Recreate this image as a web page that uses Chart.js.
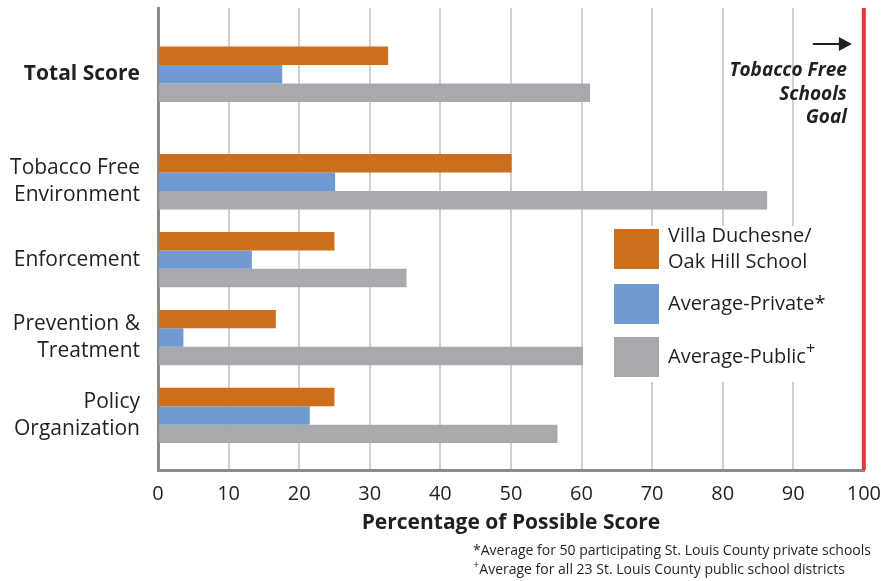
<!DOCTYPE html>
<html>
<head>
<meta charset="utf-8">
<script src="https://cdn.jsdelivr.net/npm/chart.js@4.4.1/dist/chart.umd.min.js"></script>
<style>
  html, body { margin: 0; padding: 0; background: #fff; }
  #wrap { width: 893px; height: 581px; }
</style>
</head>
<body>
<div id="wrap"><canvas id="myChart" width="893" height="581"></canvas></div>
<script>
// chart data
var categories = ['Total Score', ['Tobacco Free', 'Environment'], 'Enforcement', ['Prevention &', 'Treatment'], ['Policy', 'Organization']];
var seriesNames = [['Villa Duchesne/', 'Oak Hill School'], 'Average-Private*', 'Average-Public+'];
var villaDuchesne = [32.6, 50.1, 25.0, 16.7, 25.0];
var averagePrivate = [17.6, 25.1, 13.3, 3.6, 21.5];
var averagePublic = [61.2, 86.3, 35.2, 60.2, 56.6];
var xTicks = [0, 10, 20, 30, 40, 50, 60, 70, 80, 90, 100];
var goalValue = 100;
var goalLabel = ['Tobacco Free', 'Schools', 'Goal'];
var footnotes = ['*Average for 50 participating St. Louis County private schools', '+Average for all 23 St. Louis County public school districts'];

var colors = ['#cc6e1b', '#6f9bd2', '#a8a9ac'];
var textColor = '#231f20';
var fontFamily = '"Open Sans", "Noto Sans", sans-serif';

// rows: total score sits apart from the four components
var leadIn = 0.85, sectionGap = 0.38;
var rowPos = categories.map(function (c, i) { return i === 0 ? leadIn : i + leadIn + sectionGap; });

function toPoints(arr) {
    return arr.map(function (v, i) { return {x: v, y: rowPos[i]}; });
}

// text with a raised "+" drawn smaller, like the print version
function drawPlusText(ctx, text, x, y, size) {
    var idx = text.indexOf('+');
    if (idx < 0) { ctx.fillText(text, x, y); return; }
    var before = text.slice(0, idx), after = text.slice(idx + 1);
    var base = ctx.font;
    ctx.fillText(before, x, y);
    var cx = x + ctx.measureText(before).width;
    ctx.font = Math.round(size * 0.8) + 'px ' + fontFamily;
    ctx.fillText('+', cx, y - size * 0.38);
    cx += ctx.measureText('+').width;
    ctx.font = base;
    ctx.fillText(after, cx, y);
}

var overlay = {
    id: 'overlay',
    afterDatasetsDraw: function (chart) {
        var ctx = chart.ctx, area = chart.chartArea;
        var xs = chart.scales.x;
        ctx.save();
        // goal line
        var gx = xs.getPixelForValue(goalValue);
        ctx.strokeStyle = '#e8363f';
        ctx.lineWidth = 4;
        ctx.beginPath();
        ctx.moveTo(gx, area.top);
        ctx.lineTo(gx, area.bottom);
        ctx.stroke();

        // goal arrow + label
        ctx.strokeStyle = textColor;
        ctx.fillStyle = textColor;
        ctx.lineWidth = 2;
        ctx.beginPath();
        ctx.moveTo(gx - 51, 44);
        ctx.lineTo(gx - 20, 44);
        ctx.stroke();
        ctx.beginPath();
        ctx.moveTo(gx - 12, 44);
        ctx.lineTo(gx - 25, 37);
        ctx.lineTo(gx - 25, 51);
        ctx.closePath();
        ctx.fill();
        ctx.font = 'italic bold 19px ' + fontFamily;
        ctx.textAlign = 'right';
        ctx.textBaseline = 'middle';
        goalLabel.forEach(function (t, i) {
            ctx.fillText(t, gx - 17, 71 + i * 23.5);
        });

        // legend
        ctx.fillStyle = '#fff';
        ctx.fillRect(604, 226, 232, 156);
        var boxes = [[229, 40], [284, 40], [337, 40]];
        ctx.font = '20px ' + fontFamily;
        ctx.textAlign = 'left';
        seriesNames.forEach(function (name, i) {
            ctx.fillStyle = colors[i];
            ctx.fillRect(614, boxes[i][0], 45, boxes[i][1]);
            ctx.fillStyle = textColor;
            var lines = Array.isArray(name) ? name : [name];
            var cy = boxes[i][0] + boxes[i][1] / 2 - (lines.length - 1) * 13;
            lines.forEach(function (l, j) {
                drawPlusText(ctx, l, 668, cy + j * 26, 20);
            });
        });
        ctx.restore();
    },
    afterDraw: function (chart) {
        var ctx = chart.ctx;
        ctx.save();
        ctx.fillStyle = textColor;
        ctx.font = '14px ' + fontFamily;
        ctx.textAlign = 'left';
        ctx.textBaseline = 'middle';
        footnotes.forEach(function (t, i) {
            drawPlusText(ctx, t, 473, 551 + i * 19, 14);
        });
        ctx.restore();
    }
};

var ctx = document.getElementById('myChart').getContext('2d');
var myChart = new Chart(ctx, {
    type: 'bar',
    data: {
        datasets: [
            {label: 'Villa Duchesne/Oak Hill School', data: toPoints(villaDuchesne), backgroundColor: colors[0]},
            {label: 'Average-Private*', data: toPoints(averagePrivate), backgroundColor: colors[1]},
            {label: 'Average-Public+', data: toPoints(averagePublic), backgroundColor: colors[2]}
        ]
    },
    options: {
        indexAxis: 'y',
        responsive: false,
        animation: false,
        layout: {padding: {top: 8, right: 29, left: 0, bottom: 0}},
        datasets: {bar: {categoryPercentage: 0.71, barPercentage: 1.0}},
        plugins: {
            legend: {display: false},
            tooltip: {enabled: false}
        },
        scales: {
            x: {
                type: 'linear',
                min: 0,
                max: 100,
                afterBuildTicks: function (scale) {
                    scale.ticks = xTicks.map(function (v) { return {value: v}; });
                },
                afterFit: function (scale) { scale.height = 111; },
                grid: {color: '#d0d0d0', lineWidth: 2, drawTicks: false},
                border: {color: '#8b8b8d', width: 3},
                ticks: {
                    color: textColor,
                    padding: 12,
                    font: {family: fontFamily, size: 20}
                },
                title: {
                    display: true,
                    text: 'Percentage of Possible Score',
                    color: textColor,
                    padding: {top: 0, bottom: 45},
                    font: {family: fontFamily, size: 21, weight: 'bold'}
                }
            },
            y: {
                type: 'linear',
                reverse: true,
                offset: false,
                min: 0,
                max: 5.93,
                afterBuildTicks: function (scale) {
                    scale.ticks = rowPos.map(function (v) { return {value: v}; });
                },
                afterFit: function (scale) {
                    scale.width = 158;
                    scale.paddingTop = 0;
                    scale.paddingBottom = 0;
                },
                grid: {display: false},
                border: {color: '#8b8b8d', width: 3},
                ticks: {
                    color: textColor,
                    padding: 10,
                    callback: function (value, index) { return categories[index]; },
                    font: function (c) {
                        return {family: fontFamily, size: 21, lineHeight: 1.3, weight: c.index === 0 ? 'bold' : 'normal'};
                    }
                }
            }
        }
    },
    plugins: [overlay]
});
</script>
</body>
</html>
